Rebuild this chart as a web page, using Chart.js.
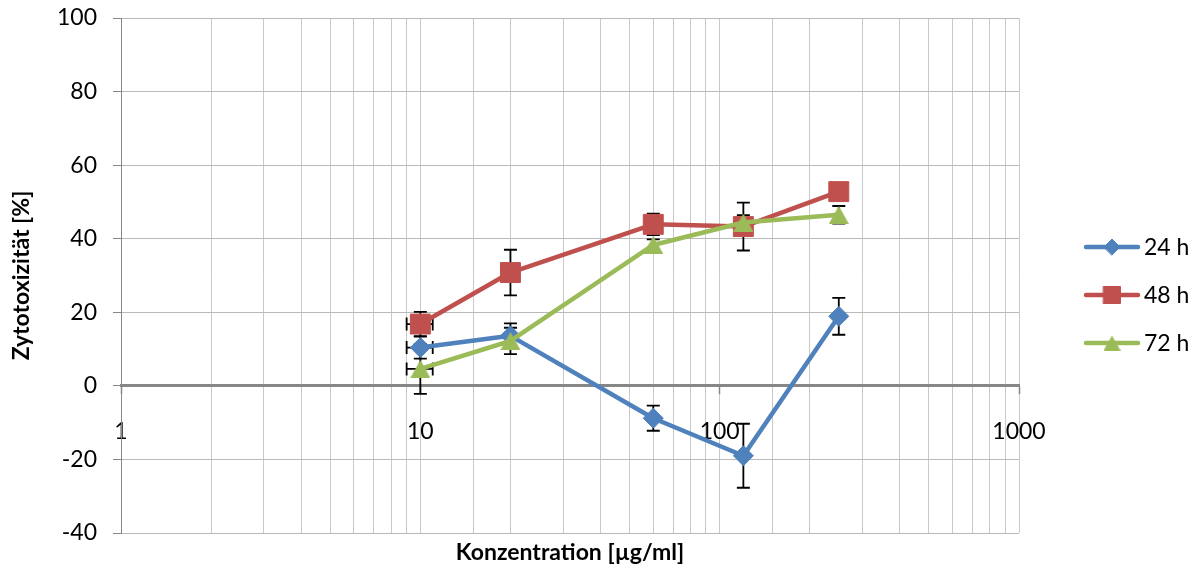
<!DOCTYPE html>
<html>
<head>
<meta charset="utf-8">
<title>Zytotoxizität</title>
<script src="https://cdn.jsdelivr.net/npm/chart.js@4/dist/chart.umd.min.js"></script>
<style>
  html, body { margin: 0; padding: 0; background: #ffffff; }
  #wrap { width: 1199px; height: 569px; position: relative; }
</style>
</head>
<body>
<div id="wrap"><canvas id="chart" width="1199" height="569"></canvas></div>
<script>
// Konzentration [µg/ml]
const concentrations = [10, 20, 60, 120, 250];

// Zytotoxizität [%] per incubation time, with standard deviations
const tox24 = [10.4, 13.6, -8.8, -19.0, 18.9];
const err24 = [3.0, 3.4, 3.4, 8.7, 5.0];
const tox48 = [16.8, 30.8, 43.9, 43.3, 52.8];
const err48 = [3.3, 6.2, 2.9, 6.5, 2.0];
const tox72 = [4.6, 12.2, 38.3, 44.4, 46.5];
const err72 = [6.8, 3.6, 1.5, 2.0, 2.4];

// horizontal deviation of the concentration (µg/ml)
const concErr = [1, 0, 0, 0, 0];

const seriesLabels = ['24 h', '48 h', '72 h'];
const xTickLabels = [1, 10, 100, 1000];

const FONT = 'Lato, "Noto Sans", sans-serif';
const BLUE = '#4F81BD', RED = '#C0504D', GREEN = '#9BBB59';

// triangle marker centred in its bounding box
function triangleMarker(w, h, color) {
  const c = document.createElement('canvas');
  c.width = w; c.height = h;
  const g = c.getContext('2d');
  g.fillStyle = color;
  g.beginPath();
  g.moveTo(w / 2, 0);
  g.lineTo(w, h);
  g.lineTo(0, h);
  g.closePath();
  g.fill();
  return c;
}
const triBig = triangleMarker(20, 18, GREEN);
const triSmall = triangleMarker(17, 15, GREEN);

function points(ys) {
  return concentrations.map((x, i) => ({ x: x, y: ys[i] }));
}

const isDecade = v => Math.abs(Math.log10(v) - Math.round(Math.log10(v))) < 1e-9;

// error bars (vertical and horizontal) drawn under the series
const errorBars = {
  id: 'errorBars',
  beforeDatasetsDraw(chart) {
    const { ctx, scales: { x, y } } = chart;
    const errs = [err24, err48, err72];
    ctx.save();
    ctx.strokeStyle = '#000000';
    ctx.lineWidth = 1.8;
    chart.data.datasets.forEach((ds, di) => {
      ds.data.forEach((p, i) => {
        const e = errs[di][i];
        const px = x.getPixelForValue(p.x);
        const py = y.getPixelForValue(p.y);
        ctx.beginPath();
        if (e > 0) {
          const y1 = y.getPixelForValue(p.y + e);
          const y2 = y.getPixelForValue(p.y - e);
          ctx.moveTo(px, y1); ctx.lineTo(px, y2);
          ctx.moveTo(px - 6.5, y1); ctx.lineTo(px + 6.5, y1);
          ctx.moveTo(px - 6.5, y2); ctx.lineTo(px + 6.5, y2);
        }
        const xe = concErr[i];
        if (xe > 0) {
          const x1 = x.getPixelForValue(p.x - xe);
          const x2 = x.getPixelForValue(p.x + xe);
          ctx.moveTo(x1, py); ctx.lineTo(x2, py);
          ctx.moveTo(x1, py - 6.5); ctx.lineTo(x1, py + 6.5);
          ctx.moveTo(x2, py - 6.5); ctx.lineTo(x2, py + 6.5);
        }
        ctx.stroke();
      });
    });
    ctx.restore();
  }
};

// x-axis title under the plot and the legend on the right
const decorations = {
  id: 'decorations',
  afterDraw(chart) {
    const { ctx, chartArea } = chart;
    ctx.save();
    ctx.fillStyle = '#000000';
    ctx.font = 'bold 23px ' + FONT;
    ctx.textAlign = 'center';
    ctx.textBaseline = 'middle';
    ctx.fillText('Konzentration [µg/ml]', (chartArea.left + chartArea.right) / 2, 553);

    const legendMarkers = [
      { pointStyle: 'rectRot', radius: 8 },
      { pointStyle: 'rect', radius: 12 },
      { pointStyle: triSmall, radius: 8 }
    ];
    chart.data.datasets.forEach((ds, i) => {
      const ly = 247 + i * 48;
      ctx.strokeStyle = ds.borderColor;
      ctx.lineWidth = 4.5;
      ctx.lineCap = 'round';
      ctx.beginPath();
      ctx.moveTo(1086, ly);
      ctx.lineTo(1138, ly);
      ctx.stroke();
      ctx.fillStyle = ds.backgroundColor;
      ctx.strokeStyle = ds.borderColor;
      ctx.lineWidth = 1;
      Chart.helpers.drawPoint(ctx, { pointStyle: legendMarkers[i].pointStyle, radius: legendMarkers[i].radius, rotation: 0, borderWidth: 1 }, 1112, ly);
      ctx.fillStyle = '#000000';
      ctx.font = '23px ' + FONT;
      ctx.textAlign = 'left';
      ctx.textBaseline = 'middle';
      ctx.fillText(seriesLabels[i], 1144, ly + 1);
    });
    ctx.restore();
  }
};

new Chart(document.getElementById('chart'), {
  type: 'line',
  data: {
    datasets: [
      { label: seriesLabels[0], data: points(tox24), borderColor: BLUE, backgroundColor: BLUE,
        borderWidth: 4.5, pointStyle: 'rectRot', pointRadius: 10, pointBorderWidth: 1, order: 2 },
      { label: seriesLabels[1], data: points(tox48), borderColor: RED, backgroundColor: RED,
        borderWidth: 4.5, pointStyle: 'rect', pointRadius: 14.1, pointBorderWidth: 1, order: 1 },
      { label: seriesLabels[2], data: points(tox72), borderColor: GREEN, backgroundColor: GREEN,
        borderWidth: 4.5, pointStyle: triBig, pointRadius: 10, pointBorderWidth: 0, order: 0 }
    ]
  },
  options: {
    responsive: false,
    animation: false,
    devicePixelRatio: 1,
    layout: { padding: { left: 0, right: 180, top: 18, bottom: 36 } },
    plugins: { legend: { display: false }, tooltip: { enabled: false } },
    elements: { line: { tension: 0, borderJoinStyle: 'round', borderCapStyle: 'round' } },
    scales: {
      x: {
        type: 'logarithmic',
        min: 1,
        max: 1000,
        position: { y: 0 },
        border: { color: '#878787', width: 3 },
        grid: {
          color: '#c9c9c9',
          lineWidth: 1,
          tickLength: 7,
          tickColor: c => (c.tick && isDecade(c.tick.value)) ? '#878787' : 'rgba(0,0,0,0)',
          tickWidth: 1.5
        },
        ticks: {
          autoSkip: false,
          maxRotation: 0,
          padding: 25,
          color: '#000000',
          font: { family: FONT, size: 23 },
          callback: v => (xTickLabels.includes(v) ? String(v) : '')
        }
      },
      y: {
        min: -40,
        max: 100,
        position: 'left',
        afterFit: s => { s.width = 121; s.paddingTop = 0; s.paddingBottom = 0; },
        border: { color: '#878787', width: 1 },
        grid: { color: '#b9b9b9', lineWidth: 1, tickLength: 8, tickColor: '#878787' },
        ticks: {
          stepSize: 20,
          padding: 16,
          color: '#000000',
          font: { family: FONT, size: 23 }
        },
        title: {
          display: true,
          text: 'Zytotoxizität [%]',
          color: '#000000',
          font: { family: FONT, size: 23, weight: 'bold' },
          padding: { top: 8, bottom: 0 }
        }
      }
    }
  },
  plugins: [errorBars, decorations]
});
</script>
</body>
</html>
